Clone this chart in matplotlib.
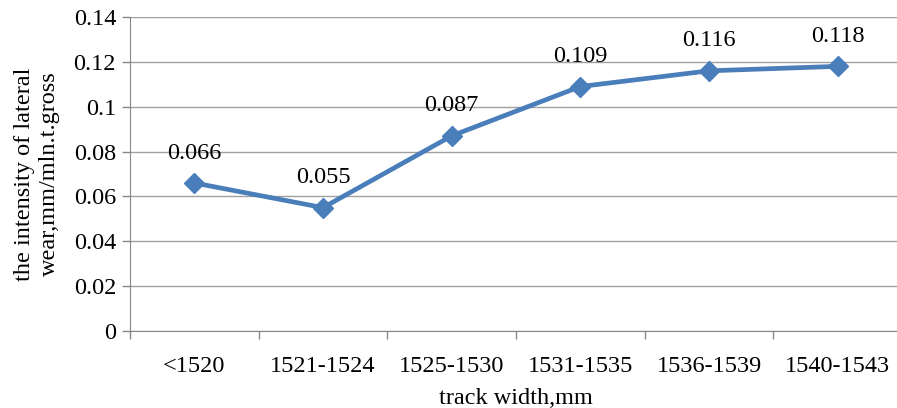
import matplotlib.pyplot as plt
import numpy as np

# track width groups and lateral wear intensity
categories = ['<1520', '1521-1524', '1525-1530', '1531-1535', '1536-1539', '1540-1543']
wear = [0.066, 0.055, 0.087, 0.109, 0.116, 0.118]

plt.rcParams['font.family'] = ['Liberation Serif', 'DejaVu Serif']
fs = 17.5

fig = plt.figure(figsize=(8.97, 4.08), dpi=100)
ax = fig.add_axes([130/897, 1-331/408, (902-130)/897, (331-17)/408])

x = np.arange(len(categories))
ax.plot(x, wear, color='#4a7ebb', lw=3.4, marker='D', ms=10, zorder=3)
for xi, v in zip(x, wear):
    ax.annotate(f'{v:g}', (xi, v), xytext=(0, 14), textcoords='offset points',
                ha='center', va='bottom', fontsize=fs)

ax.set_xlim(-0.5, len(categories) - 0.5)
ax.set_ylim(0, 0.14)
ax.set_yticks(np.arange(0, 0.141, 0.02))
ax.set_yticklabels(['0', '0.02', '0.04', '0.06', '0.08', '0.1', '0.12', '0.14'])
ax.set_xticks(x)
ax.set_xticklabels(categories)
ax.set_xticks(np.arange(-0.5, len(categories)), minor=True)
ax.tick_params(axis='x', which='major', length=0, pad=18, labelsize=fs)
ax.tick_params(axis='x', which='minor', length=6, color='#888888', width=1)
ax.tick_params(axis='y', length=6, color='#888888', width=1, labelsize=fs, pad=4)

ax.grid(axis='y', color='#a0a0a0', lw=1)
ax.set_axisbelow(True)
for s in ['top', 'right']:
    ax.spines[s].set_visible(False)
for s in ['left', 'bottom']:
    ax.spines[s].set_color('#888888')

ax.set_xlabel('track width,mm', fontsize=fs, labelpad=8)
ax.set_ylabel('the intensity of lateral\nwear,mm/mln.t.gross', fontsize=fs, labelpad=10, linespacing=1.25)

fig.savefig('out.png', dpi=100)
